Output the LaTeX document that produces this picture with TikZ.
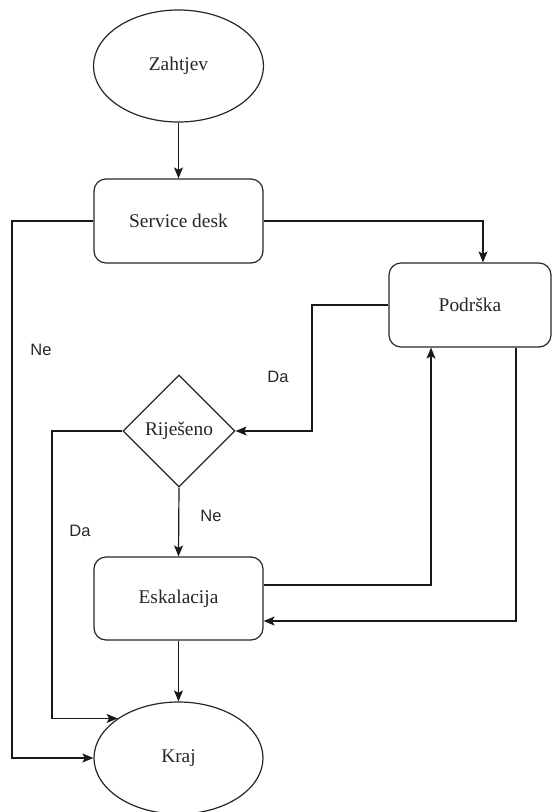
\documentclass[tikz,border=0pt]{standalone}
\usepackage{fontspec}
\setmainfont{Liberation Serif}
\newfontfamily\lblfont{Liberation Sans}
\usetikzlibrary{shapes.geometric,arrows.meta}
\begin{document}
\begin{tikzpicture}[x=1pt,y=-1pt,
  shapetxt/.style={font=\fontsize{19.4}{23}\selectfont, text=black!85, line width=1.2pt, draw=black!85},
  oval/.style={shapetxt, ellipse, inner sep=0pt, minimum width=170pt, minimum height=112pt},
  procbox/.style={shapetxt, rectangle, rounded corners=12pt, inner sep=0pt, minimum width=169pt, minimum height=84pt},
  decision/.style={shapetxt, diamond, inner sep=0pt, minimum width=112pt, minimum height=112pt},
  arr/.style={line width=1.2pt, draw=black!90, -{Stealth[length=11pt,width=9pt,inset=2.5pt]}},
  lbl/.style={font=\lblfont\fontsize{16.5}{20}\selectfont, text=black!85, inner sep=0pt}]
\useasboundingbox (0,0) rectangle (552,812);
\node[oval] (zah) at (178.5,66) {Zahtjev};
\node[procbox] (sd) at (178.5,221) {Service desk};
\node[procbox, minimum width=162pt] (pod) at (470,305) {Podrška};
\node[decision] (dia) at (179,431) {Riješeno};
\node[procbox, minimum height=83pt] (esk) at (178.5,598.5) {Eskalacija};
\node[oval, minimum width=169pt] (kraj) at (178.5,758) {Kraj};
\coordinate (podx) at (483,0);
\coordinate (lx) at (12,0);
\coordinate (mx) at (312,0);
\coordinate (dx) at (52,0);
\coordinate (ux) at (431,0);
\coordinate (vx) at (516,0);
\coordinate (ey) at (0,585);
\coordinate (fy) at (0,621);
\draw[arr] (zah.south) -- (sd.north);
\draw[arr] (sd.east) -| (pod.north -| podx);
\draw[arr] (sd.west) -- (sd.west -| lx) |- (kraj.west);
\draw[arr] (pod.west) -- (pod.west -| mx) |- (dia.east);
\draw[arr] (dia.west) -- (dia.west -| dx) |- (kraj.147);
\draw[arr] (dia.south) -- (esk.north);
\draw[arr] (esk.east |- ey) -| (pod.south -| ux);
\draw[arr] (pod.south -| vx) |- (esk.east |- fy);
\draw[arr] (esk.south) -- (kraj.north);
\node[lbl] (l1) at (41,350) {Ne};
\node[lbl] (l2) at (278,377) {Da};
\node[lbl] (l3) at (80,531) {Da};
\node[lbl] (l4) at (211,516) {Ne};
\end{tikzpicture}
\end{document}
